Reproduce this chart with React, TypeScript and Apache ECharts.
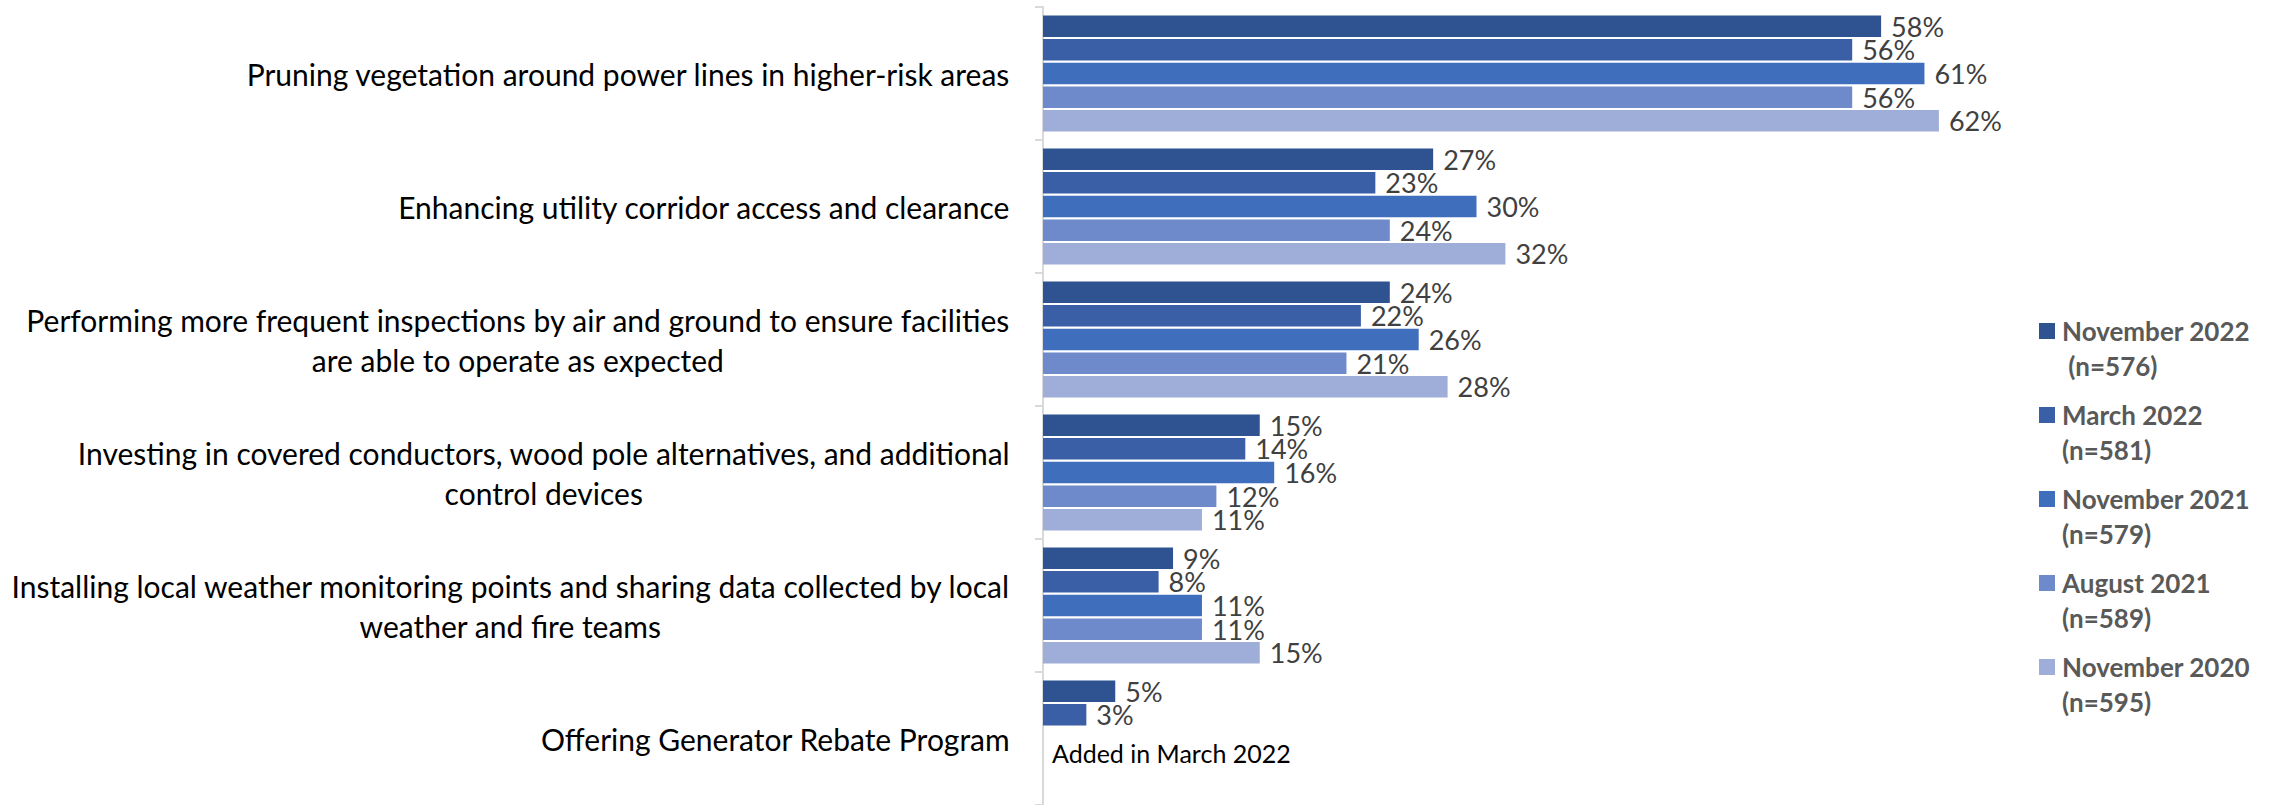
import React, { useEffect, useRef } from "react";
import * as echarts from "echarts";

const categories: string[] = [
  "Pruning vegetation around power lines in higher-risk areas",
  "Enhancing utility corridor access and clearance",
  "Performing more frequent inspections by air and ground to ensure facilities\nare able to operate as expected",
  "Investing in covered conductors, wood pole alternatives, and additional\ncontrol devices",
  "Installing local weather monitoring points and sharing data collected by local\nweather and fire teams",
  "Offering Generator Rebate Program",
];

const seriesNames: string[] = [
  "November 2022\n (n=576)",
  "March 2022\n(n=581)",
  "November 2021\n(n=579)",
  "August 2021\n(n=589)",
  "November 2020\n(n=595)",
];

const nov2022: (number | null)[] = [58, 27, 24, 15, 9, 5];
const mar2022: (number | null)[] = [56, 23, 22, 14, 8, 3];
const nov2021: (number | null)[] = [61, 30, 26, 16, 11, null];
const aug2021: (number | null)[] = [56, 24, 21, 12, 11, null];
const nov2020: (number | null)[] = [62, 32, 28, 11, 15, null];

const seriesData = [nov2022, mar2022, nov2021, aug2021, nov2020];
const colors = ["#2F5290", "#3A5FA7", "#3F6EBD", "#6E8ACA", "#9FAED8"];
const note = "Added in March 2022";

export default function App() {
  const ref = useRef<HTMLDivElement>(null);
  useEffect(() => {
    if (!ref.current) return;
    const chart = echarts.init(ref.current, undefined, { renderer: "svg" });
    const option: any = {
      animation: false,
      backgroundColor: "#ffffff",
      textStyle: { fontFamily: "Lato" },
      grid: { left: 1043, top: 7, height: 798, width: 1011.5, containLabel: false },
      xAxis: {
        type: "value",
        min: 0,
        max: 70,
        show: false,
      },
      yAxis: {
        type: "category",
        inverse: true,
        data: categories,
        axisLine: { show: true, lineStyle: { color: "#D9D9D9", width: 2 } },
        axisTick: { show: true, length: 8, lineStyle: { color: "#D9D9D9", width: 2 } },
        axisLabel: {
          margin: 33,
          formatter: (v: string) =>
            v
              .split("\n")
              .map((l) => "{c|" + l + "}")
              .join("\n"),
          rich: {
            c: {
              fontFamily: "Lato",
              fontSize: 30,
              color: "#000000",
              align: "center",
              lineHeight: 40,
            },
          },
        },
        splitLine: { show: false },
      },
      legend: {
        orient: "vertical",
        left: 2039,
        top: 278.5,
        padding: 0,
        itemWidth: 16,
        itemHeight: 16,
        itemGap: -21,
        icon: "rect",
        selectedMode: false,
        formatter: (n: string) => " \n" + n,
        textStyle: {
          fontFamily: "Lato",
          fontWeight: "bold",
          fontSize: 26,
          color: "#595959",
          lineHeight: 35,
          padding: [0, 0, 0, 2],
        },
        data: seriesNames,
      },
      graphic: [
        {
          type: "text",
          x: 1052,
          y: 753,
          style: {
            text: note,
            font: "25px Lato",
            fill: "#000000",
            verticalAlign: "middle",
          },
        },
      ],
      series: seriesNames.map((name, i) => ({
        type: "bar",
        name,
        data: seriesData[i],
        barWidth: 21.5,
        barGap: "10%",
        itemStyle: { color: colors[i] },
        label: {
          show: true,
          position: "right",
          distance: 10,
          fontFamily: "Lato",
          fontSize: 27,
          lineHeight: 22,
          color: "#404040",
          formatter: "{c}%",
        },
      })),
    };
    chart.setOption(option);
    return () => chart.dispose();
  }, []);
  return (
    <div
      ref={ref}
      style={{ position: "absolute", left: 0, top: 0, width: 2272, height: 805 }}
    />
  );
}
